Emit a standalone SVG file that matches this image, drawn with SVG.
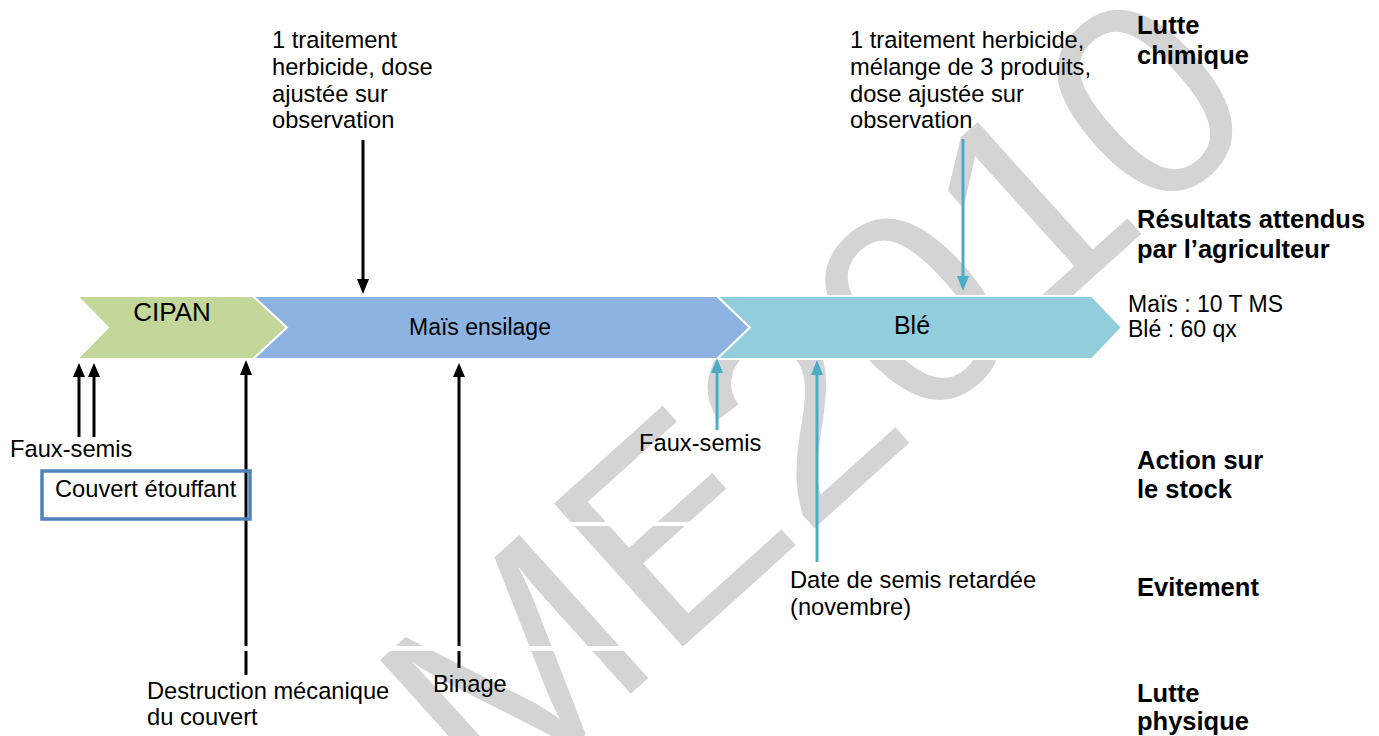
<svg xmlns="http://www.w3.org/2000/svg" width="1379" height="736" viewBox="0 0 1379 736">
<defs>
<style>
.t{font-family:"Liberation Sans",Arial,sans-serif;font-size:23.7px;fill:#000}
.b{font-family:"Liberation Sans",Arial,sans-serif;font-size:25.5px;font-weight:bold;fill:#000}
.wm{font-family:"Liberation Sans",Arial,sans-serif;font-size:280px;fill:#d4d4d4}
.ak{stroke:#000;stroke-width:3;fill:none}
.ab{stroke:#4bacc6;stroke-width:3;fill:none}
.chev{stroke:#fff;stroke-width:2}
</style>
</defs>
<rect width="1379" height="736" fill="#fff"/>
<g id="watermark">
<text class="wm" transform="translate(512 666) rotate(-42)" x="-117 117 303 303 459 615 771" y="100">ME 2010</text>
</g>
<g id="chevrons">
<g id="cipan"><polygon class="chev" points="77,296 253,296 287,327.5 253,359 77,359 108,327.5" fill="#c4d79b"/><text class="t" x="172" y="321" text-anchor="middle" style="font-size:26px">CIPAN</text></g>
<g id="mais"><polygon class="chev" points="253,296 717,296 750,327.5 717,359 253,359 287,327.5" fill="#8db3e2"/><text class="t" x="480" y="335" text-anchor="middle" style="font-size:23px">Maïs ensilage</text></g>
<g id="ble"><polygon class="chev" points="717,296 1092,296 1122,327.5 1092,359 717,359 750,327.5" fill="#92cddc"/><text class="t" x="912" y="334" text-anchor="middle" style="font-size:25px">Blé</text></g>
</g>
<g id="connectors">
<line class="ak" x1="79" y1="437" x2="79" y2="372"/>
<path d="M73,377 L79,363 L85,377 Z"/>
<line class="ak" x1="94" y1="437" x2="94" y2="372"/>
<path d="M88,377 L94,363 L100,377 Z"/>
<line class="ak" x1="246" y1="675" x2="246" y2="370"/>
<path d="M240,375 L246,360 L252,375 Z"/>
<line class="ak" x1="363" y1="140" x2="363" y2="282"/>
<path d="M357,279 L363,294 L369,279 Z"/>
<line class="ak" x1="459" y1="668" x2="459" y2="372"/>
<path d="M453,377 L459,363 L465,377 Z"/>
<line class="ab" x1="717" y1="430" x2="717" y2="368"/>
<path d="M711,373 L717,358 L723,373 Z" fill="#4bacc6"/>
<line class="ab" x1="817" y1="562" x2="817" y2="370"/>
<path d="M811,375 L817,360 L823,375 Z" fill="#4bacc6"/>
<line class="ab" x1="963" y1="139" x2="963" y2="280"/>
<path d="M957,276 L963,291 L969,276 Z" fill="#4bacc6"/>
<line x1="200" y1="648.5" x2="720" y2="648.5" stroke="#fff" stroke-width="5"/>
<line x1="550" y1="524" x2="715" y2="524" stroke="#fff" stroke-width="4"/>
</g>
<g id="n-chem1"><text class="t"><tspan x="272" y="48">1 traitement</tspan><tspan x="272" y="75">herbicide, dose</tspan><tspan x="272" y="101.5">ajustée sur</tspan><tspan x="272" y="128">observation</tspan></text></g>
<g id="n-chem2"><text class="t"><tspan x="850" y="48">1 traitement herbicide,</tspan><tspan x="850" y="75">mélange de 3 produits,</tspan><tspan x="850" y="101.5">dose ajustée sur</tspan><tspan x="850" y="128">observation</tspan></text></g>
<g id="n-fs1"><text class="t" x="10" y="457">Faux-semis</text></g>
<g id="n-couvert"><rect x="42" y="471" width="208" height="48" fill="none" stroke="#4f81bd" stroke-width="3.5"/><text class="t" x="55" y="497">Couvert étouffant</text></g>
<g id="n-fs2"><text class="t" x="639" y="451">Faux-semis</text></g>
<g id="n-date"><text class="t"><tspan x="790" y="588">Date de semis retardée</tspan><tspan x="790" y="615">(novembre)</tspan></text></g>
<g id="n-destr"><text class="t"><tspan x="147" y="699">Destruction mécanique</tspan><tspan x="147" y="725">du couvert</tspan></text></g>
<g id="n-binage"><text class="t" x="433" y="692">Binage</text></g>
<g id="n-results"><text class="t" style="font-size:23px"><tspan x="1128" y="312">Maïs : 10 T MS</tspan><tspan x="1128" y="337">Blé : 60 qx</tspan></text></g>
<g id="legend">
<text class="b"><tspan x="1137" y="34">Lutte</tspan><tspan x="1137" y="64">chimique</tspan></text>
<text class="b"><tspan x="1137" y="228">Résultats attendus</tspan><tspan x="1137" y="258">par l’agriculteur</tspan></text>
<text class="b"><tspan x="1137" y="469">Action sur</tspan><tspan x="1137" y="498">le stock</tspan></text>
<text class="b" x="1137" y="596">Evitement</text>
<text class="b"><tspan x="1137" y="702">Lutte</tspan><tspan x="1137" y="730">physique</tspan></text>
</g>
</svg>
